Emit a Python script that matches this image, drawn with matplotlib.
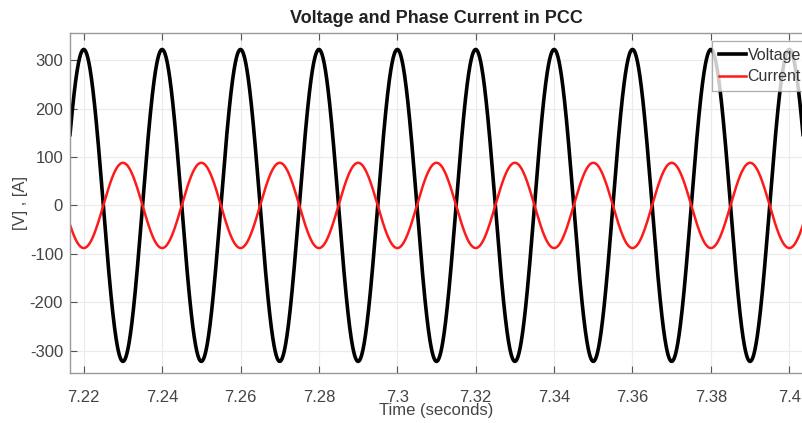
import numpy as np
import matplotlib
matplotlib.use("Agg")
import matplotlib.pyplot as plt

# Signal parameters
freq_hz = 50.0
t_start, t_end = 7.2165, 7.4035
voltage_amp = 322.0
current_amp = 88.0
voltage_peak_time = 7.22      # voltage crest
current_peak_time = 7.23      # current crest (antiphase)

x_ticks = [7.22, 7.24, 7.26, 7.28, 7.30, 7.32, 7.34, 7.36, 7.38, 7.40]
x_tick_labels = ["7.22", "7.24", "7.26", "7.28", "7.3", "7.32", "7.34", "7.36", "7.38", "7.4"]
y_ticks = [-300, -200, -100, 0, 100, 200, 300]
y_tick_labels = ["-300", "-200", "-100", "0", "100", "200", "300"]

t = np.linspace(t_start, t_end, 4000)
voltage = voltage_amp * np.cos(2 * np.pi * freq_hz * (t - voltage_peak_time))
current = current_amp * np.cos(2 * np.pi * freq_hz * (t - current_peak_time))

plt.rcParams['font.family'] = ['Liberation Sans', 'DejaVu Sans']

fig = plt.figure(figsize=(8.03, 4.23), dpi=100)
ax = fig.add_axes([70/803, 1 - 373/423, 733/803, 340/423])

ax.plot(t, voltage, color='black', lw=2.6, label='Voltage')
ax.plot(t, current, color='#ff1a1a', lw=1.8, label='Current')

ax.set_xlim(t_start, t_end)
ax.set_ylim(-346, 356)
ax.set_xticks(x_ticks)
ax.set_xticklabels(x_tick_labels)
ax.set_yticks(y_ticks)
ax.set_yticklabels(y_tick_labels)

ax.grid(True, color='#ebebeb', lw=0.9)
ax.set_axisbelow(True)
ax.tick_params(axis='both', direction='in', length=5, color='#555555',
               labelsize=12, labelcolor='#444444', top=True, right=False)
ax.tick_params(axis='x', pad=12)
ax.tick_params(axis='y', pad=5)
for s in ['top', 'bottom', 'left', 'right']:
    ax.spines[s].set_color('#999999')
    ax.spines[s].set_linewidth(1.0)

ax.set_title('Voltage and Phase Current in PCC', fontsize=13, fontweight='bold',
             color='#222222', pad=7)
ax.set_xlabel('Time (seconds)', fontsize=12, color='#444444', labelpad=-1)
ax.set_ylabel('[V] , [A]', fontsize=12, color='#444444', labelpad=1)

leg = ax.legend(loc='upper right', bbox_to_anchor=(1.006, 0.975), fontsize=11.5,
                frameon=True, fancybox=False, edgecolor='#999999',
                handlelength=1.7, handletextpad=0.1, borderpad=0.4,
                labelspacing=0.4, borderaxespad=0)
leg.get_frame().set_linewidth(0.9)
for txt in leg.get_texts():
    txt.set_color('#333333')

fig.savefig('out.png', dpi=100)
